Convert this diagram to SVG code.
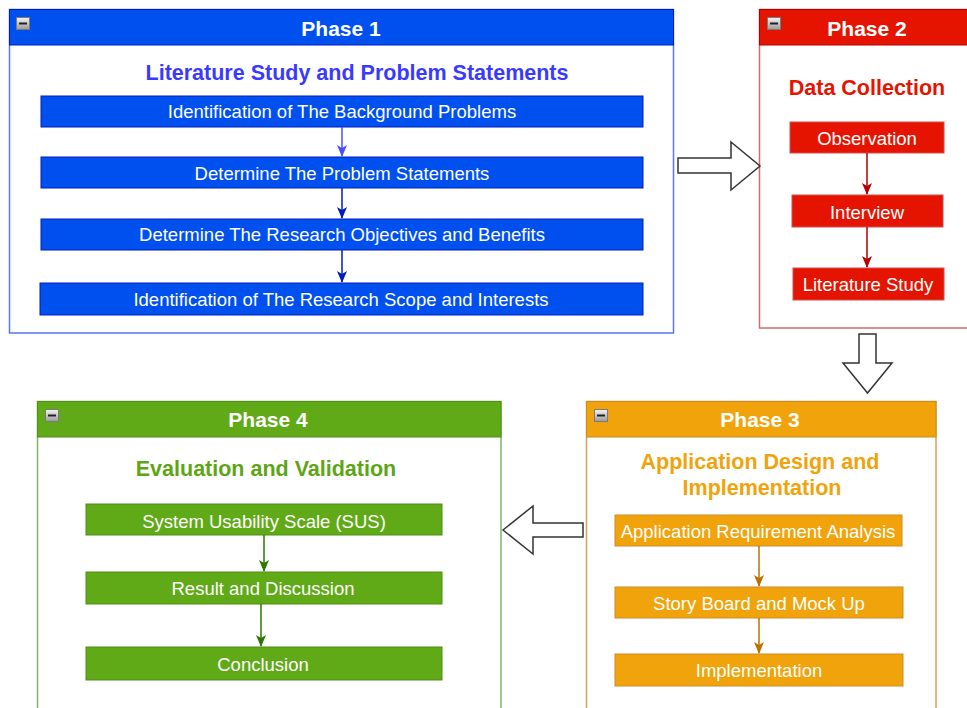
<svg xmlns="http://www.w3.org/2000/svg" width="967" height="708" viewBox="0 0 967 708">
<style>
  text { font-family: "Liberation Sans", Arial, sans-serif; text-anchor: middle; dominant-baseline: central; }
  .title { font-size: 21px; font-weight: bold; fill: #ffffff; }
  .sub { font-size: 21.5px; font-weight: bold; }
  .lbl { font-size: 18.5px; fill: #ffffff; }
  .frame { fill: #ffffff; stroke-width: 1.5; }
  .blk { fill: #ffffff; stroke: #333333; stroke-width: 1.5; stroke-linejoin: miter; }
  .conn { fill: none; stroke-width: 1.5; }
</style>
<defs>
  <linearGradient id="ig" x1="0" y1="0" x2="0" y2="1">
    <stop offset="0" stop-color="#f4f4f4"/>
    <stop offset="1" stop-color="#9a9a9a"/>
  </linearGradient>
  <g id="minus">
    <rect x="0.5" y="0.5" width="13" height="12" fill="url(#ig)" stroke="#7a7a7a" stroke-width="1"/>
    <rect x="3" y="5.5" width="8" height="2" fill="#222222"/>
  </g>
  <marker id="mLb" markerUnits="userSpaceOnUse" markerWidth="12" markerHeight="12" viewBox="0 0 12 12" refX="11" refY="6" orient="auto">
    <path d="M0,1 L12,6 L0,11 L3,6 z" fill="#4d4dff"/>
  </marker>
  <marker id="mB" markerUnits="userSpaceOnUse" markerWidth="12" markerHeight="12" viewBox="0 0 12 12" refX="11" refY="6" orient="auto">
    <path d="M0,1 L12,6 L0,11 L3,6 z" fill="#001DBC"/>
  </marker>
  <marker id="mR" markerUnits="userSpaceOnUse" markerWidth="12" markerHeight="12" viewBox="0 0 12 12" refX="11" refY="6" orient="auto">
    <path d="M0,1 L12,6 L0,11 L3,6 z" fill="#B20000"/>
  </marker>
  <marker id="mO" markerUnits="userSpaceOnUse" markerWidth="12" markerHeight="12" viewBox="0 0 12 12" refX="11" refY="6" orient="auto">
    <path d="M0,1 L12,6 L0,11 L3,6 z" fill="#BD7000"/>
  </marker>
  <marker id="mG" markerUnits="userSpaceOnUse" markerWidth="12" markerHeight="12" viewBox="0 0 12 12" refX="11" refY="6" orient="auto">
    <path d="M0,1 L12,6 L0,11 L3,6 z" fill="#2D7600"/>
  </marker>
</defs>

<rect x="0" y="0" width="967" height="708" fill="#ffffff"/>

<!-- Phase 1 -->
<g id="phase1">
  <rect class="frame" x="9.5" y="9.5" width="664" height="323.5" stroke="#5a78e6"/>
  <rect x="9.5" y="9.5" width="664" height="35.5" fill="#0050EF" stroke="#001DBC" stroke-width="1"/>
  <use href="#minus" x="16" y="17"/>
  <text class="title" x="341" y="28">Phase 1</text>
  <text class="sub" x="357" y="73" fill="#3a3aff">Literature Study and Problem Statements</text>
</g>
<g id="p1a">
  <rect x="41" y="96" width="602" height="31" fill="#0050EF" stroke="#001DBC" stroke-width="1"/>
  <text class="lbl" x="342" y="111">Identification of The Background Problems</text>
</g>
<g id="p1b">
  <rect x="41" y="157" width="602" height="31" fill="#0050EF" stroke="#001DBC" stroke-width="1"/>
  <text class="lbl" x="342" y="173">Determine The Problem Statements</text>
</g>
<g id="p1c">
  <rect x="41" y="219" width="602" height="31" fill="#0050EF" stroke="#001DBC" stroke-width="1"/>
  <text class="lbl" x="342" y="234">Determine The Research Objectives and Benefits</text>
</g>
<g id="p1d">
  <rect x="40" y="283" width="603" height="32" fill="#0050EF" stroke="#001DBC" stroke-width="1"/>
  <text class="lbl" x="341" y="299">Identification of The Research Scope and Interests</text>
</g>

<!-- Phase 2 -->
<g id="phase2">
  <rect class="frame" x="759.5" y="9.5" width="216" height="318.5" stroke="#d46a6a"/>
  <rect x="759.5" y="9.5" width="216" height="35.5" fill="#E51400" stroke="#B20000" stroke-width="1"/>
  <use href="#minus" x="767" y="17"/>
  <text class="title" x="867" y="28">Phase 2</text>
  <text class="sub" x="867" y="88" fill="#E51400">Data Collection</text>
</g>
<g id="p2a">
  <rect x="790" y="122" width="154" height="31" fill="#E51400" stroke="#d05050" stroke-width="1"/>
  <text class="lbl" x="867" y="138">Observation</text>
</g>
<g id="p2b">
  <rect x="792" y="195" width="151" height="32" fill="#E51400" stroke="#d05050" stroke-width="1"/>
  <text class="lbl" x="867" y="212">Interview</text>
</g>
<g id="p2c">
  <rect x="793" y="268" width="151" height="32" fill="#E51400" stroke="#d05050" stroke-width="1"/>
  <text class="lbl" x="868" y="284">Literature Study</text>
</g>

<!-- Phase 3 -->
<g id="phase3">
  <rect class="frame" x="586.5" y="401.5" width="349.5" height="330" stroke="#d9a05a"/>
  <rect x="586.5" y="401.5" width="349.5" height="35.5" fill="#F0A30A" stroke="#c98a20" stroke-width="1"/>
  <use href="#minus" x="594" y="409"/>
  <text class="title" x="760" y="419">Phase 3</text>
  <text class="sub" x="760" y="462" fill="#F0A30A">Application Design and</text>
  <text class="sub" x="762" y="488" fill="#F0A30A">Implementation</text>
</g>
<g id="p3a">
  <rect x="615" y="515" width="287" height="31" fill="#F0A30A" stroke="#d08a2a" stroke-width="1"/>
  <text class="lbl" x="758" y="531">Application Requirement Analysis</text>
</g>
<g id="p3b">
  <rect x="615" y="587" width="288" height="31" fill="#F0A30A" stroke="#d08a2a" stroke-width="1"/>
  <text class="lbl" x="759" y="603">Story Board and Mock Up</text>
</g>
<g id="p3c">
  <rect x="615" y="654" width="288" height="32" fill="#F0A30A" stroke="#d08a2a" stroke-width="1"/>
  <text class="lbl" x="759" y="670">Implementation</text>
</g>

<!-- Phase 4 -->
<g id="phase4">
  <rect class="frame" x="37.5" y="401.5" width="463.5" height="330" stroke="#82b366"/>
  <rect x="37.5" y="401.5" width="463.5" height="35.5" fill="#60A917" stroke="#4f8f15" stroke-width="1"/>
  <use href="#minus" x="45" y="409"/>
  <text class="title" x="268" y="419">Phase 4</text>
  <text class="sub" x="266" y="469" fill="#5ea516">Evaluation and Validation</text>
</g>
<g id="p4a">
  <rect x="86" y="504" width="356" height="31" fill="#60A917" stroke="#4f8f15" stroke-width="1"/>
  <text class="lbl" x="264" y="521">System Usability Scale (SUS)</text>
</g>
<g id="p4b">
  <rect x="86" y="572" width="356" height="32" fill="#60A917" stroke="#4f8f15" stroke-width="1"/>
  <text class="lbl" x="263" y="588">Result and Discussion</text>
</g>
<g id="p4c">
  <rect x="86" y="647" width="356" height="33" fill="#60A917" stroke="#4f8f15" stroke-width="1"/>
  <text class="lbl" x="263" y="664">Conclusion</text>
</g>

<!-- Connectors -->
<g id="connectors">
  <line class="conn" x1="342" y1="127" x2="342" y2="156" stroke="#4d4dff" marker-end="url(#mLb)"/>
  <line class="conn" x1="342" y1="188" x2="342" y2="218" stroke="#001DBC" marker-end="url(#mB)"/>
  <line class="conn" x1="342" y1="250" x2="342" y2="282" stroke="#001DBC" marker-end="url(#mB)"/>
  <line class="conn" x1="867" y1="153" x2="867" y2="194" stroke="#B20000" marker-end="url(#mR)"/>
  <line class="conn" x1="867" y1="227" x2="867" y2="267" stroke="#B20000" marker-end="url(#mR)"/>
  <line class="conn" x1="759" y1="546" x2="759" y2="586" stroke="#BD7000" marker-end="url(#mO)"/>
  <line class="conn" x1="759" y1="618" x2="759" y2="653" stroke="#BD7000" marker-end="url(#mO)"/>
  <line class="conn" x1="264" y1="535" x2="264" y2="571" stroke="#2D7600" marker-end="url(#mG)"/>
  <line class="conn" x1="261" y1="604" x2="261" y2="646" stroke="#2D7600" marker-end="url(#mG)"/>
  <polygon class="blk" points="678,158 731,158 731,142 760,166 731,190 731,173 678,173"/>
  <polygon class="blk" points="859,334 876,334 876,363 892,363 867.5,393 843,363 859,363"/>
  <polygon class="blk" points="583,523 583,537 533,537 533,554 503,530 533,506 533,523"/>
</g>
</svg>
